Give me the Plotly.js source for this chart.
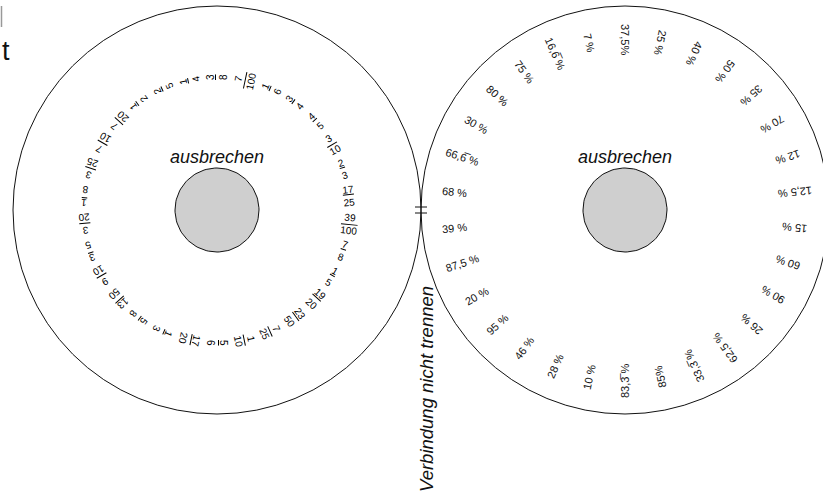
<!DOCTYPE html>
<html>
<head>
<meta charset="utf-8">
<script src="https://cdn.plot.ly/plotly-3.0.1.min.js"></script>
<style>html,body{margin:0;padding:0;background:#fff;}#chart{width:823px;height:498px;}</style>
</head>
<body>
<div id="chart"></div>
<script>
// Percent labels on the right disc, clockwise from the top
const percentLabels = ["37,5%","25 %","40 %","50 %","35 %","70 %","12 %","12,5 %","15 %","60 %",
  "90 %","26 %","62,5 %","33,3\u0305 %","85%","83,3\u0305 %","10 %","28 %","46 %","95 %",
  "20 %","87,5 %","39 %","68 %","66,6\u0305 %","30 %","80 %","75 %","16,6\u0305 %","7 %"];
// Fractions on the left disc, clockwise from the top
const fractionNum = ["3","7","1","3","4","3","2","17","39","7","1","19","23","7","1",
  "5","17","1","5","13","9","3","3","1","3","7","7","1","2","1"];
const fractionDen = ["8","100","6","4","5","10","3","25","100","8","5","20","50","25","10",
  "6","20","3","8","50","10","5","20","8","25","10","20","2","5","4"];
const centerTitle = "ausbrechen";
const jointTitle = "Verbindung nicht trennen";

const W = 823, H = 498;
const cy = 210, cxL = 217, cxR = 625, R = 204, rIn = 42;
const rPct = 171, rFrac = 133;
const n = percentLabels.length;
const step = 360 / n;
const font = "Liberation Sans, Arial, sans-serif";

const annotations = [];
percentLabels.forEach((t, i) => {
  const th = i * step, a = th * Math.PI / 180;
  annotations.push({
    x: cxR + rPct * Math.sin(a), y: cy - rPct * Math.cos(a),
    text: t, showarrow: false, xanchor: "center", yanchor: "middle",
    textangle: th + 90, font: {family: font, size: 11, color: "#111"}
  });
});
fractionNum.forEach((num, i) => {
  const den = fractionDen[i];
  const th = i * step, a = th * Math.PI / 180;
  let txt;
  if (num.length >= den.length) txt = "<u>" + num + "</u><br>" + den;
  else txt = num + "<br><span style='text-decoration:overline'>" + den + "</span>";
  annotations.push({
    x: cxL + rFrac * Math.sin(a), y: cy - rFrac * Math.cos(a),
    text: txt, showarrow: false, xanchor: "center", yanchor: "middle",
    textangle: th - 90, font: {family: font, size: 10, color: "#000"}
  });
});
[cxL, cxR].forEach(cx => annotations.push({
  x: cx, y: 157, text: centerTitle, showarrow: false, xanchor: "center", yanchor: "middle",
  font: {family: font, size: 18, color: "#111", style: "italic"}
}));
annotations.push({
  x: 426, y: 389, text: jointTitle, showarrow: false, xanchor: "center", yanchor: "middle",
  textangle: -90, font: {family: font, size: 18.5, color: "#111", style: "italic"}
});
annotations.push({
  x: 6, y: 51, text: "t", showarrow: false, xanchor: "center", yanchor: "middle",
  font: {family: font, size: 27, color: "#111"}
});

const shapes = [];
[cxL, cxR].forEach(cx => {
  shapes.push({type: "circle", xref: "x", yref: "y", x0: cx - R, x1: cx + R, y0: cy - R, y1: cy + R,
    line: {color: "#111", width: 1}, layer: "below"});
});
shapes.push({type: "line", x0: 415, x1: 427, y0: 207, y1: 207, line: {color: "#111", width: 1}});
shapes.push({type: "line", x0: 415, x1: 427, y0: 213, y1: 213, line: {color: "#111", width: 1}});
shapes.push({type: "line", x0: 1.5, x1: 1.5, y0: 6, y1: 27, line: {color: "#999", width: 1.5}});

// stippled break-out discs
const traces = [cxL, cxR].map(cx => {
  const xs = [], ys = [];
  for (let k = 0; k <= 120; k++) {
    const a = k / 120 * 2 * Math.PI;
    xs.push(cx + rIn * Math.cos(a)); ys.push(cy + rIn * Math.sin(a));
  }
  return {x: xs, y: ys, type: "scatter", mode: "lines", fill: "toself",
    line: {color: "#111", width: 1}, fillcolor: "#ececec",
    fillpattern: {shape: ".", size: 2, solidity: 0.5, fgcolor: "#a0a0a0", bgcolor: "#f4f4f4"},
    hoverinfo: "skip", showlegend: false};
});

const layout = {
  width: W, height: H, margin: {l: 0, r: 0, t: 0, b: 0},
  paper_bgcolor: "#fff", plot_bgcolor: "#fff", showlegend: false,
  xaxis: {range: [0, W], autorange: false, visible: false, fixedrange: true},
  yaxis: {range: [H, 0], autorange: false, visible: false, fixedrange: true},
  shapes: shapes, annotations: annotations
};
Plotly.newPlot("chart", traces, layout, {staticPlot: true, displayModeBar: false});
</script>
</body>
</html>
